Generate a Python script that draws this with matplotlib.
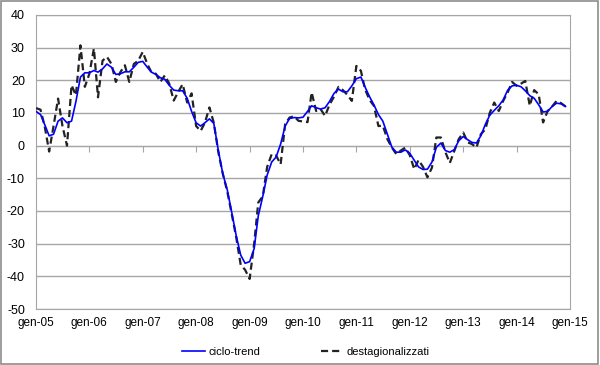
import pandas as pd
import matplotlib
matplotlib.use("Agg")
import matplotlib.pyplot as plt
import matplotlib.dates as mdates
from matplotlib.patches import Rectangle

plt.rcParams["font.family"] = ["Liberation Sans", "DejaVu Sans"]
plt.rcParams["axes.unicode_minus"] = False

# Monthly series, gen-2005 .. dic-2014
months = pd.date_range("2005-01-01", periods=120, freq="MS")

ciclo_trend = [
    10.5, 9.5, 6.5, 3.0, 3.5, 7.5, 8.5, 7.0, 7.5, 13.5, 21.0, 22.3,
    22.3, 23.0, 22.5, 23.5, 25.0, 24.0, 21.8, 22.0, 22.6, 22.6, 24.0, 25.5,
    25.8, 24.0, 22.5, 21.8, 20.8, 20.3, 18.5, 17.0, 16.8, 16.8, 14.5, 10.5,
    7.0, 6.0, 7.0, 8.2, 6.8, -1.5, -8.5, -13.5, -20.5, -27.5, -33.5, -36.0,
    -35.5, -31.5, -21.5, -15.5, -9.0, -5.0, -3.5, 0.5, 6.0, 8.3, 8.6, 8.5,
    8.7, 10.5, 12.2, 11.6, 11.2, 11.6, 13.5, 16.0, 17.3, 16.5, 16.5, 18.3,
    20.5, 21.0, 18.0, 15.0, 12.5, 9.5, 7.5, 3.5, -0.5, -2.0, -2.0, -1.3,
    -2.3, -4.5, -6.5, -7.3, -7.2, -5.0, -0.5, 0.8, -1.5, -2.0, -1.2, 1.5,
    2.8, 1.8, 1.0, 0.8, 3.0, 6.5, 9.3, 10.8, 12.2, 14.0, 17.0, 18.3,
    18.5, 18.0, 16.8, 15.3, 14.5, 12.5, 10.3, 10.5, 12.0, 13.0, 12.8, 12.0,
]

destagionalizzati = [
    11.5, 11.0, 6.0, -1.8, 6.0, 14.4, 6.0, 0.0, 18.5, 15.4, 30.7, 18.0,
    22.0, 29.7, 14.8, 26.0, 27.2, 25.0, 19.5, 22.5, 24.6, 19.5, 25.0, 26.0,
    28.7, 25.0, 22.5, 22.0, 19.5, 21.5, 19.0, 13.8, 16.5, 18.8, 13.2, 16.0,
    6.0, 4.5, 7.0, 11.7, 7.0, -2.0, -8.5, -14.0, -21.0, -28.0, -36.5, -38.0,
    -40.8, -30.0, -17.4, -15.5, -6.5, -2.6, -3.0, -5.7, 6.6, 8.6, 9.0, 7.6,
    7.4, 7.2, 16.3, 10.6, 11.2, 9.1, 12.5, 15.0, 18.0, 17.0, 15.5, 13.7,
    24.4, 22.9, 17.3, 14.0, 12.2, 6.0, 6.1, 2.0, -0.6, -2.6, -1.5, -0.6,
    -2.9, -7.2, -4.4, -6.5, -9.7, -6.7, 2.5, 2.5, -2.0, -5.3, -1.6, 2.0,
    4.0, 1.0, 0.5, -0.6, 3.5, 5.0, 10.0, 13.2, 10.6, 13.7, 16.3, 19.5,
    18.3, 19.0, 19.8, 12.2, 17.0, 15.7, 7.1, 10.6, 12.0, 13.7, 13.0, 12.0,
]

year_ticks = pd.date_range("2005-01-01", "2015-01-01", freq="YS")
year_labels = ["gen-%02d" % (d.year % 100) for d in year_ticks]

grid_color = "#a6a6a6"

fig = plt.figure(figsize=(6, 3.65), dpi=100)
ax = fig.add_axes([0.06, 0.1534, 0.89, 0.8056])

ax.plot(months, destagionalizzati, color="#222222", lw=1.6,
        dashes=(3.2, 1.8), zorder=3, label="destagionalizzati")
ax.plot(months, ciclo_trend, color="#0000ff", lw=1.2, zorder=4,
        label="ciclo-trend")

ax.set_xlim(year_ticks[0], year_ticks[-1])
ax.set_ylim(-50, 40)
ax.set_yticks(range(-50, 41, 10))
ax.yaxis.grid(True, color=grid_color, lw=1)
ax.set_axisbelow(True)
ax.tick_params(axis="y", length=0, labelsize=9, pad=8)

# category axis crosses at zero, labels stay at the bottom
for side in ["left", "right", "top"]:
    ax.spines[side].set_color(grid_color)
ax.spines["bottom"].set_position(("data", 0))
ax.spines["bottom"].set_color(grid_color)
ax.set_xticks(year_ticks)
ax.tick_params(axis="x", length=4, color=grid_color, labelbottom=False)

sec = ax.secondary_xaxis(0)
sec.set_xticks(year_ticks)
sec.set_xticklabels(year_labels)
sec.tick_params(length=0, labelsize=8.5, pad=6)
sec.spines["bottom"].set_color(grid_color)

handles, labels = ax.get_legend_handles_labels()
fig.legend(handles[::-1], labels[::-1], loc="center", ncol=2,
           bbox_to_anchor=(0.51, 0.035), frameon=False, fontsize=8,
           handlelength=2.0, columnspacing=5.5, handletextpad=0.3)

fig.add_artist(Rectangle((0.001, 0.002), 0.996, 0.995, transform=fig.transFigure,
                         fill=False, edgecolor="#8c8c8c", lw=1.2))

fig.savefig("out.png", dpi=100)
